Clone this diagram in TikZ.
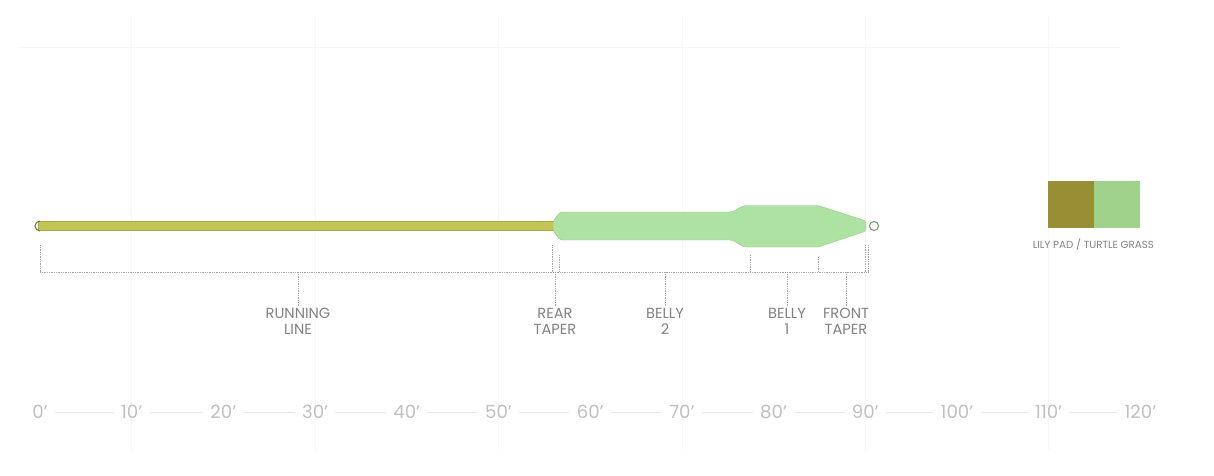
\documentclass[tikz,border=0pt]{standalone}
\usepackage{fontspec}
\setmainfont{Poppins}
\usetikzlibrary{positioning}
\definecolor{runline}{RGB}{194,196,86}
\definecolor{runedge}{RGB}{168,170,60}
\definecolor{headfill}{RGB}{174,226,162}
\definecolor{headedge}{RGB}{150,208,138}
\definecolor{lilypad}{RGB}{152,142,52}
\definecolor{turtle}{RGB}{160,210,140}
\definecolor{axisgray}{RGB}{192,192,192}
\definecolor{labelgray}{RGB}{130,130,130}
\definecolor{dotgray}{RGB}{165,165,165}

\begin{document}
\begin{tikzpicture}[
  x=0.03cm, y=-0.03cm,
  axislabel/.style={font=\fontsize{15.5}{17}\selectfont, text=axisgray, inner sep=1pt},
  partlabel/.style={font=\fontsize{12.5}{13.5}\selectfont, text=labelgray, align=center, inner sep=1pt},
  bracket/.style={draw=dotgray, densely dotted, line width=0.5pt},
  swatch/.style={minimum width=1.38cm, minimum height=1.41cm, inner sep=0pt, outer sep=0pt},
]
\useasboundingbox[fill=white] (0,0) rectangle (1214,475);

  % faint grid behind everything
  \foreach \i in {1,3,...,11}
    \draw[black!3, line width=0.4pt] ({40+91.7*\i},15) -- ({40+91.7*\i},450);
  \draw[black!4, line width=0.4pt] (20,47) -- (1120,47);

  % running line and head
  \filldraw[fill=runline, draw=runedge, line width=0.4pt] (38,221.5) rectangle (556,230.5);
  \filldraw[fill=headfill, draw=headedge, line width=0.4pt, rounded corners=1.5pt]
    (553,230.5) -- (553,221.5) -- (560,212) -- (732,212) -- (744,205.5) -- (818,205.5)
    -- (866,221) -- (866,231) -- (818,247) -- (744,247) -- (732,240) -- (560,240) -- cycle;
  \draw[runedge!70!black, line width=0.9pt] (40,231) arc (90:270:5);
  \draw[headedge!70!black, line width=0.8pt, fill=white] (874,226) circle (4.5);

  % bracket under the line
  \coordinate (b0) at (40,272);
  \coordinate (b1) at (868,272);
  \draw[bracket] (b0) -- (b1);
  \foreach \tx/\ty in {40/245, 552/245, 559/255, 750/255, 818/257, 865/245, 868/245}
    \draw[bracket] (\tx,\ty) -- (\tx,272);

  % parts of the line
  \node[partlabel] (running) at (298,321) {RUNNING\\LINE};
  \node[partlabel] (rear) at (555,321) {REAR\\TAPER};
  \node[partlabel] (belly2) at (665,321) {BELLY\\2};
  \node[partlabel] (belly1) at (787,321) {BELLY\\1};
  \node[partlabel] (front) at (846,321) {FRONT\\TAPER};
  \foreach \p in {running, rear, belly2, belly1, front}
    \draw[bracket] (\p.north |- b0) -- (\p.north);

  % length axis
  \foreach \i in {0,...,12} {
    \pgfmathtruncatemacro\ft{10*\i}
    \node[axislabel] (t\i) at ({40+91.7*\i},412) {\ft'};
  }
  \foreach \i [evaluate=\i as \j using int(\i+1)] in {0,...,11}
    \draw[black!9, line width=0.4pt] ([xshift=5pt]t\i.east) -- ([xshift=-5pt]t\j.west);

  % colour swatches
  \node[swatch, fill=lilypad] (lily) at (1070.5,204.5) {};
  \node[swatch, fill=turtle, right=0pt of lily] (grass) {};
  \node[font=\fontsize{8.8}{10}\selectfont, text=labelgray, below=0.2cm of lily.south east] (colour) {LILY PAD / TURTLE GRASS};
\end{tikzpicture}
\end{document}
